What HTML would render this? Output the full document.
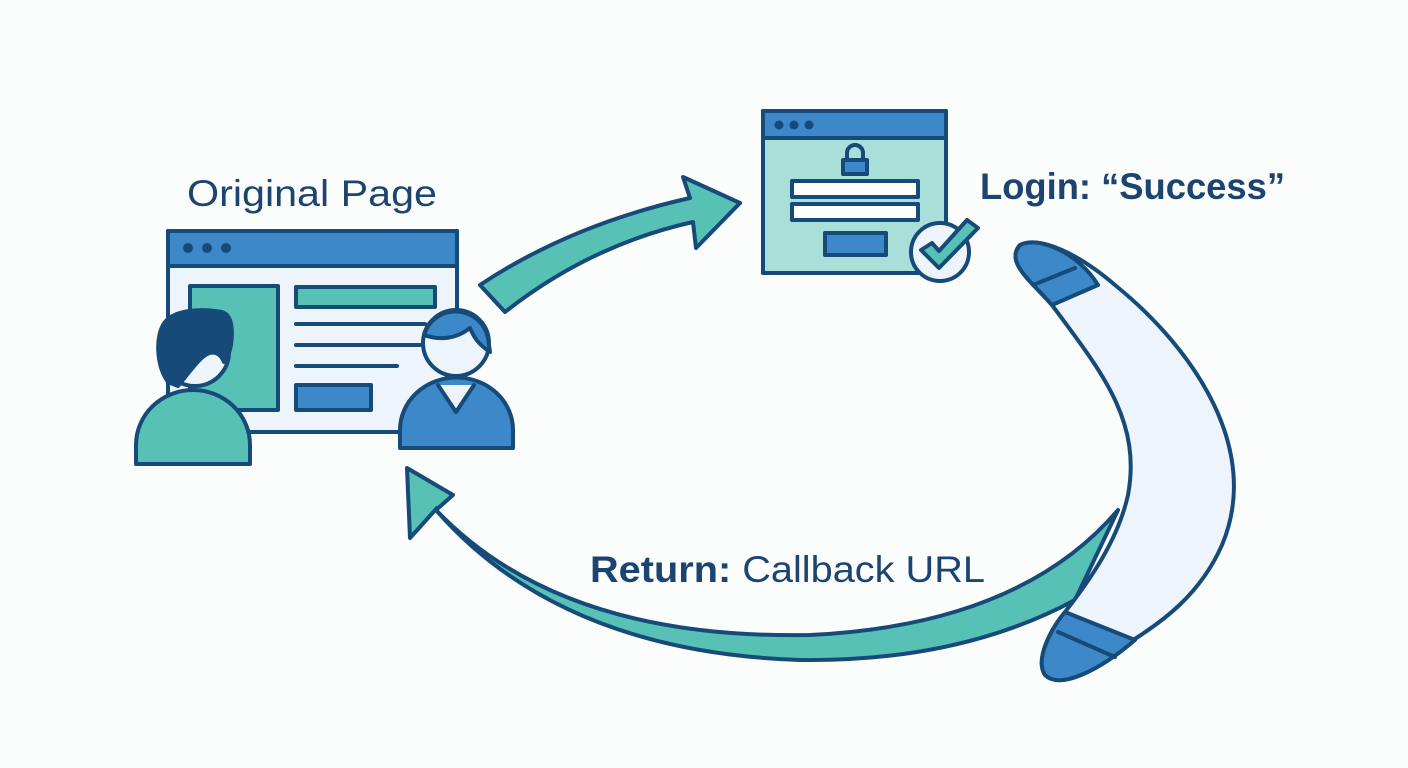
<!DOCTYPE html>
<html><head><meta charset="utf-8"><style>
html,body{margin:0;padding:0;background:#fbfcfc;}
svg{display:block}
text{font-family:"Liberation Sans",sans-serif;fill:#1b4470}
</style></head><body>
<svg width="1408" height="768" viewBox="0 0 1408 768" xmlns="http://www.w3.org/2000/svg">
<g stroke="#164a78" stroke-width="4" stroke-linejoin="round" stroke-linecap="round">
<!-- top arrow -->
<path d="M480,285 Q570,225 690,198 L683,177 L740,203 L696,248 L693,222 Q590,245 505,312 Z" fill="#58c1b6"/>
<!-- left browser -->
<rect x="168" y="231" width="289" height="201" fill="#eef4fb"/>
<rect x="168" y="231" width="289" height="35" fill="#3d88c9"/>
<circle cx="188" cy="248" r="5" fill="#164a78" stroke="none"/>
<circle cx="207" cy="248" r="5" fill="#164a78" stroke="none"/>
<circle cx="226" cy="248" r="5" fill="#164a78" stroke="none"/>
<rect x="190" y="286" width="88" height="124" fill="#58c1b6"/>
<rect x="296" y="287" width="139" height="20" fill="#58c1b6"/>
<line x1="296" y1="324" x2="425" y2="324"/>
<line x1="296" y1="345" x2="420" y2="345"/>
<line x1="296" y1="366" x2="397" y2="366"/>
<rect x="296" y="385" width="75" height="25" fill="#3d88c9"/>
<!-- left person -->
<circle cx="195" cy="352" r="34" fill="#eef4fb"/>
<path d="M168,382 C156,365 155,335 165,322 C175,310 200,308 222,312 C232,315 233,330 231,345 C229,355 226,360 224,362 C220,352 212,350 204,356 C196,362 188,374 178,386 Z" fill="#164a78"/>
<path d="M136,464 L136,445 A57,55 0 0 1 250,445 L250,464 Z" fill="#58c1b6"/>
<!-- right person -->
<path d="M400,448 L400,430 A56,52 0 0 1 513,430 L513,448 Z" fill="#3d88c9"/>
<path d="M438,385 L456,412 L474,385" fill="#eef4fb"/>
<circle cx="456" cy="343" r="33" fill="#eef4fb"/>
<path d="M424,335 A33,33 0 0 1 488,338 L490,352 C480,345 475,340 470,328 C455,340 438,340 424,335 Z" fill="#3d88c9"/>
<!-- login browser -->
<rect x="763" y="111" width="183" height="162" fill="#a8dfd8"/>
<rect x="763" y="111" width="183" height="27" fill="#3d88c9"/>
<circle cx="779" cy="125" r="4.5" fill="#164a78" stroke="none"/>
<circle cx="794" cy="125" r="4.5" fill="#164a78" stroke="none"/>
<circle cx="809" cy="125" r="4.5" fill="#164a78" stroke="none"/>
<path d="M847,160 L847,153 A8,8 0 0 1 863,153 L863,160" fill="none"/>
<rect x="843" y="160" width="24" height="14" fill="#3d88c9"/>
<rect x="792" y="181" width="126" height="16" fill="#fff"/>
<rect x="792" y="204" width="126" height="16" fill="#fff"/>
<rect x="825" y="233" width="61" height="22" fill="#3d88c9"/>
<circle cx="940" cy="252" r="29" fill="#eef4fb"/>
<path d="M921,250 L932,243 L939,251 L967,220 L978,228 L939,268 Z" fill="#58c1b6"/>
<!-- bottom arrow -->
<path d="M437,508 L410,538 L407,468 L453,495 L436,510 Q560,640 810,635 Q1020,625 1118,510 L1075,600 Q960,662 800,660 Q560,652 436,510 Z" fill="#58c1b6"/>
<!-- boomerang -->
<path d="M1020,245 C1040,235 1080,255 1115,285 C1195,350 1262,450 1222,545 C1200,595 1162,622 1130,642 C1100,670 1060,690 1045,675 C1035,660 1050,630 1065,612 C1090,580 1118,540 1128,495 C1142,420 1100,370 1052,305 C1030,280 1005,262 1020,245 Z" fill="#eef4fb"/>
<path d="M1020,245 C1040,235 1080,255 1098,285 L1052,305 C1030,280 1005,262 1020,245 Z" fill="#3d88c9"/>
<line x1="1033" y1="285" x2="1075" y2="268"/>
<path d="M1065,612 L1135,640 C1100,670 1060,690 1045,675 C1035,660 1050,630 1065,612 Z" fill="#3d88c9"/>
<line x1="1058" y1="632" x2="1115" y2="657"/>
</g>
<text x="187" y="206" font-size="37" textLength="250" lengthAdjust="spacingAndGlyphs">Original Page</text>
<text x="980" y="199" font-size="37" font-weight="bold" textLength="305" lengthAdjust="spacingAndGlyphs">Login: “Success”</text>
<text x="590" y="582" font-size="37" textLength="395" lengthAdjust="spacingAndGlyphs"><tspan font-weight="bold">Return:</tspan> Callback URL</text>
</svg>
</body></html>
